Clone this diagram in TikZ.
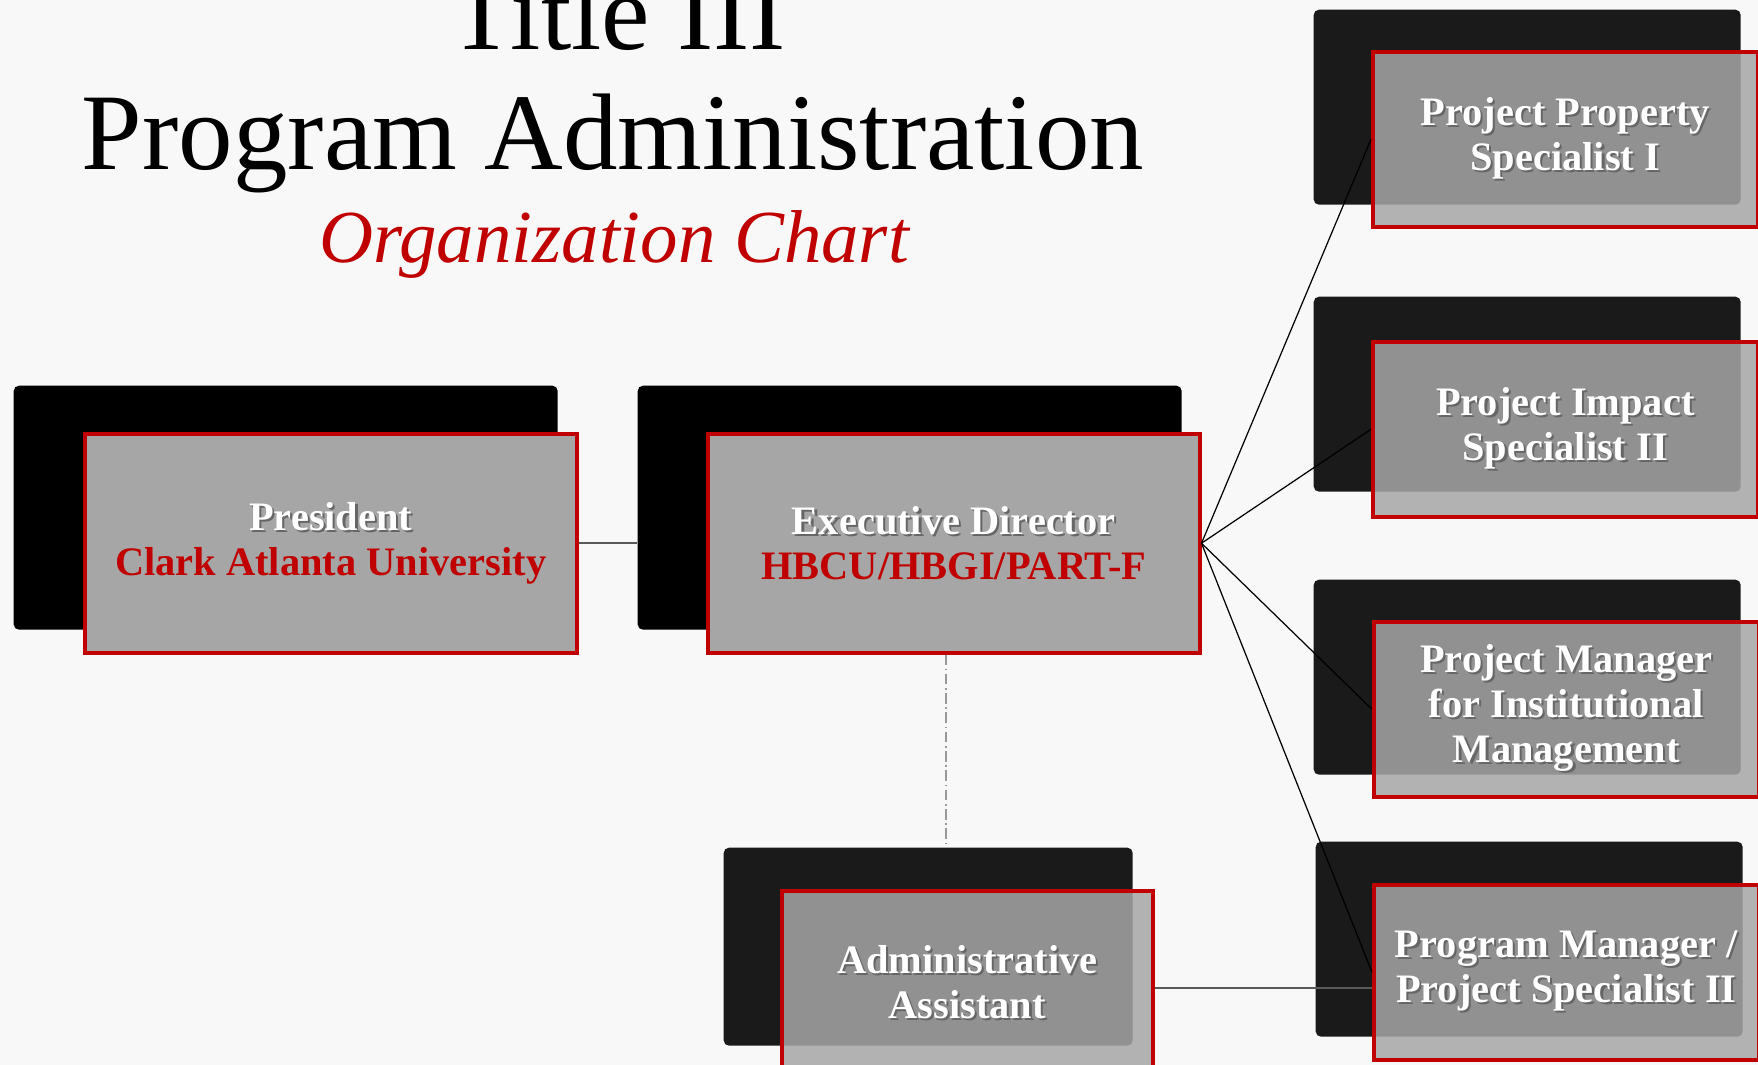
\documentclass[tikz,border=0pt]{standalone}
\usepackage{fontspec}
\setmainfont{Liberation Serif}
\usetikzlibrary{positioning}
\definecolor{boxred}{HTML}{C00000}
\definecolor{boxgray}{HTML}{A6A6A6}
\definecolor{darkback}{HTML}{1A1A1A}
\definecolor{pagebg}{HTML}{F8F8F8}
% white label with a small drop shadow
\newcommand\shd[1]{\makebox[0pt][l]{\hspace{0.6pt}\raisebox{-0.6pt}{\color{black!60}#1}}#1}
\tikzset{
  backbox/.style={fill=black, rounded corners=1.5pt, inner sep=0pt, anchor=north west},
  frontbox/.style={fill=boxgray, draw=boxred, line width=1pt, inner sep=0pt, anchor=north west,
    align=center, text=white, font=\bfseries\fontsize{11.5}{12.8}\selectfont},
  bigback/.style={backbox, minimum width=54.4mm, minimum height=24.4mm},
  bigfront/.style={frontbox, minimum width=49.2mm, minimum height=21.9mm},
  sideback/.style={backbox, fill=darkback, minimum width=42.7mm, minimum height=19.5mm},
  sidefront/.style={frontbox, fill opacity=0.85, text opacity=1, minimum width=38.5mm, minimum height=17.5mm},
  conn/.style={draw=black!65, line width=0.6pt},
  thinline/.style={draw=black, line width=0.35pt},
  dashline/.style={draw=black!40, line width=0.5pt, densely dashdotted},
}
\begin{document}
\begin{tikzpicture}[x=0.1mm,y=-0.1mm]
\useasboundingbox (0,0) rectangle (1758,1065);
\fill[pagebg] (0,0) rectangle (1758,1065);

% title
\node[anchor=base, font=\fontsize{31}{34}\selectfont] (title1) at (617,50) {Title III};
\node[anchor=base, font=\fontsize{31}{34}\selectfont] (title2) at (613,170) {Program Administration};
\node[anchor=base, font=\itshape\fontsize{21.3}{24}\selectfont, text=boxred] (subtitle) at (614,263) {Organization Chart};

% back panels
\node[bigback] (presback) at (13,385) {};
\node[bigback] (execback) at (637,385) {};
\node[sideback] (ppsback) at (1313,9) {};
\node[sideback] (pisback) at (1313,296) {};
\node[sideback] (pmimback) at (1313,579) {};
\node[sideback] (pmpsback) at (1315,841) {};
\node[sideback, minimum width=40.9mm, minimum height=19.8mm] (adminback) at (723,847) {};

% front panels
\node[bigfront] (pres) at (83,432) {\shd{President}\\ \textcolor{boxred}{Clark Atlanta University}};
\node[bigfront] (exec) at (706,432) {\shd{Executive Director}\\ \textcolor{boxred}{HBCU/HBGI/PART-F}};
\node[sidefront] (pps) at (1371,50) {\shd{Project Property}\\ \shd{Specialist I}};
\node[sidefront] (pis) at (1371,340) {\shd{Project Impact}\\ \shd{Specialist II}};
\node[sidefront] (pmim) at (1372,620) {\shd{Project Manager}\\ \shd{for Institutional}\\ \shd{Management}};
\node[sidefront] (pmps) at (1372,883) {\shd{Program Manager /}\\ \shd{Project Specialist II}};
\node[sidefront, minimum width=37.1mm, minimum height=18.5mm] (admin) at (780,889) {\shd{Administrative}\\ \shd{Assistant}};

% connectors
\draw[conn] (pres.east) -- (pres.east -| execback.west);
\foreach \n in {pps,pis,pmim,pmps}
  \draw[thinline] (exec.east) -- (\n.west);
\draw[dashline] ([xshift=-0.8mm]exec.south) -- ([xshift=-0.8mm]exec.south |- adminback.north);
\draw[conn] ([yshift=-0.5mm]admin.east) -- ([yshift=-0.5mm]admin.east -| pmps.west);
\end{tikzpicture}
\end{document}
